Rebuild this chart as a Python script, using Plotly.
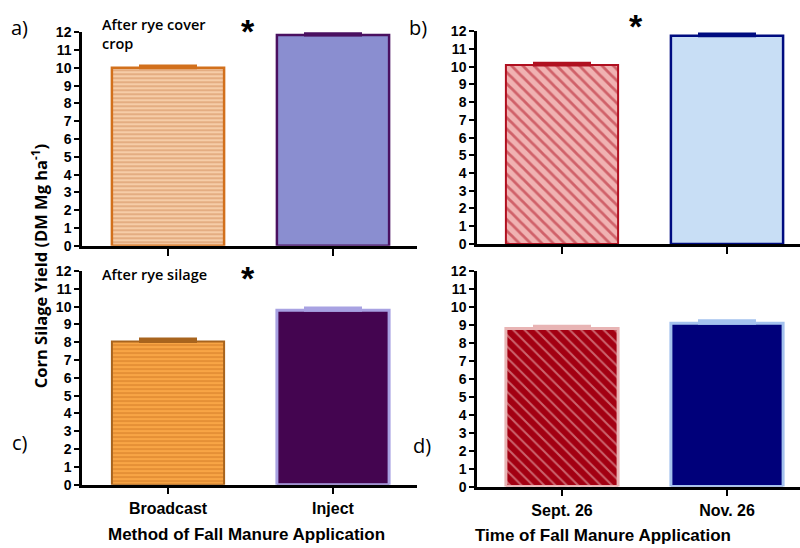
import plotly.graph_objects as go

W, H = 800, 548

# ---- data ----
method_cats = ["Broadcast", "Inject"]
time_cats = ["Sept. 26", "Nov. 26"]
a_vals = [10.0, 11.85]
a_err = [0.1, 0.1]
b_vals = [10.1, 11.75]
b_err = [0.1, 0.1]
c_vals = [8.05, 9.8]
c_err = [0.13, 0.13]
d_vals = [8.8, 9.1]
d_err = [0.13, 0.13]
y_ticks = list(range(0, 13))

def px_x(p):
    return p / W

def px_y(p):
    return 1 - p / H

fig = go.Figure()

def add_bar(cat, val, err, xa, ya, fill, border, bw, pattern=None):
    marker = dict(color=fill, line=dict(color=border, width=bw))
    if pattern:
        marker["pattern"] = pattern
    fig.add_trace(go.Bar(
        x=[cat], y=[val], xaxis=xa, yaxis=ya, width=0.68,
        marker=marker, showlegend=False,
        error_y=dict(type="data", array=[err], arrayminus=[0], symmetric=False,
                     color=border, thickness=3, width=29),
    ))

# panel a
add_bar(method_cats[0], a_vals[0], a_err[0], "x", "y", "#f6c9a2", "#d2701c", 2.5,
        dict(shape="-", fgcolor="#c97c48", bgcolor="#f6cda8", size=4, solidity=0.4))
add_bar(method_cats[1], a_vals[1], a_err[1], "x", "y", "#8a8ed0", "#4a1060", 2.5)
# panel b
add_bar(time_cats[0], b_vals[0], b_err[0], "x2", "y2", "#f0b0b0", "#b01020", 2,
        dict(shape="\\", fgcolor="#b01020", bgcolor="#f0b2b2", size=8, solidity=0.35))
add_bar(time_cats[1], b_vals[1], b_err[1], "x2", "y2", "#c8def5", "#000c80", 2.5)
# panel c
add_bar(method_cats[0], c_vals[0], c_err[0], "x3", "y3", "#f5a040", "#a8641e", 2,
        dict(shape="-", fgcolor="#c26a18", bgcolor="#f8a545", size=4, solidity=0.35))
add_bar(method_cats[1], c_vals[1], c_err[1], "x3", "y3", "#440550", "#a8a2e2", 3)
# panel d
add_bar(time_cats[0], d_vals[0], d_err[0], "x4", "y4", "#a00010", "#e8b4b4", 3,
        dict(shape="\\", fgcolor="#f3c8c8", bgcolor="#a30012", size=8, solidity=0.25))
add_bar(time_cats[1], d_vals[1], d_err[1], "x4", "y4", "#00007a", "#a4c2ee", 3)

tickfont = dict(family="Liberation Sans", size=14, color="black", weight="bold")

def xaxis(dom, rng, cats, showlabels, anchor):
    return dict(domain=dom, range=rng, anchor=anchor, type="category",
                categoryorder="array", categoryarray=cats,
                showline=True, linecolor="black", linewidth=2.5,
                ticks="outside", ticklen=7, tickwidth=2, tickcolor="black",
                showticklabels=showlabels,
                tickfont=dict(family="Liberation Sans", size=16, color="black", weight="bold"),
                showgrid=False, zeroline=False, fixedrange=True)

def yaxis(dom, anchor):
    return dict(domain=dom, range=[0, 12], anchor=anchor,
                tickvals=y_ticks, ticktext=[str(t) for t in y_ticks],
                showline=True, linecolor="black", linewidth=2.5,
                ticks="outside", ticklen=5, tickwidth=2, tickcolor="black",
                tickfont=tickfont, showgrid=False, zeroline=False, fixedrange=True)

xl = [px_x(82), px_x(417)]
xr = [px_x(477), 1.0]
ra = [-86 / 165, -86 / 165 + 335 / 165]
rb = [-85 / 165, -85 / 165 + 323 / 165]

fig.update_layout(
    width=W, height=H, margin=dict(l=0, r=0, t=0, b=0),
    paper_bgcolor="white", plot_bgcolor="white", bargap=0.32,
    xaxis=xaxis(xl, ra, method_cats, False, "y"),
    yaxis=yaxis([px_y(245), px_y(25)], "x"),
    xaxis2=xaxis(xr, rb, time_cats, False, "y2"),
    yaxis2=yaxis([px_y(243), px_y(24)], "x2"),
    xaxis3=xaxis(xl, ra, method_cats, True, "y3"),
    yaxis3=yaxis([px_y(491), px_y(271)], "x3"),
    xaxis4=xaxis(xr, rb, time_cats, True, "y4"),
    yaxis4=yaxis([px_y(493), px_y(271)], "x4"),
)

def ann(text, x, y, size, xanchor="center", yanchor="middle", family="Open Sans",
        weight="normal", angle=0, align="center"):
    fig.add_annotation(text=text, x=px_x(x), y=px_y(y), xref="paper", yref="paper",
                       showarrow=False, xanchor=xanchor, yanchor=yanchor, textangle=angle,
                       align=align,
                       font=dict(family=family, size=size, color="black", weight=weight))

ann("a)", 9, 20, 20, xanchor="left")
ann("b)", 407, 20, 20, xanchor="left")
ann("c)", 10, 448, 20, xanchor="left")
ann("d)", 411, 451, 20, xanchor="left")
ann("After rye cover<br>crop", 100, 27, 14.5, xanchor="left", weight=600, align="left")
ann("After rye silage", 100, 274, 14.5, xanchor="left", weight=600, align="left")
ann("*", 248, 24, 34, family="Liberation Sans", weight="bold")
ann("*", 636, 19, 34, family="Liberation Sans", weight="bold")
ann("*", 248, 278, 34, family="Liberation Sans", weight="bold")
ann("Corn Silage Yield (DM Mg ha<sup>-1</sup>)", 40, 266, 16.5, angle=-90, weight="bold")
ann("Method of Fall Manure Application", 246, 542, 17, family="Liberation Sans", weight="bold")
ann("Time of Fall Manure Application", 603, 543, 17, family="Liberation Sans", weight="bold")

fig.write_html("out.html")
